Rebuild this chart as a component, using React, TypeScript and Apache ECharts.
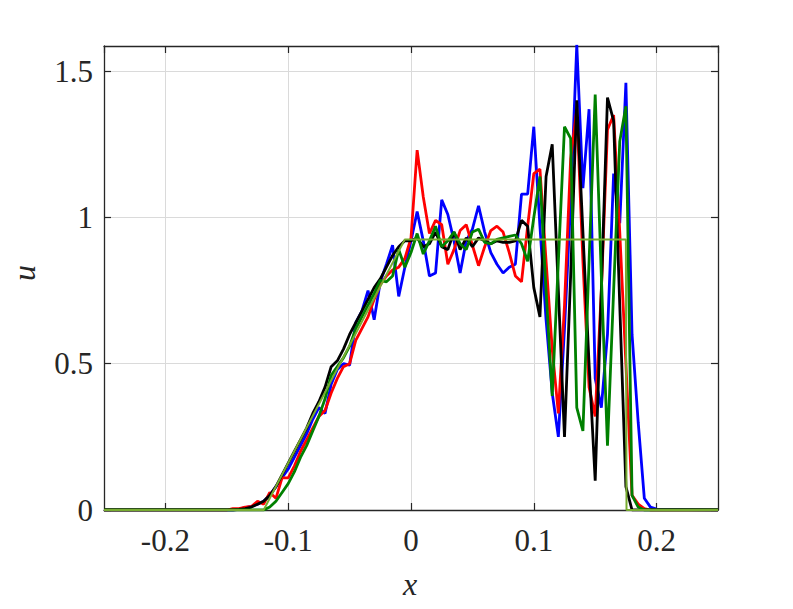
import React, { useEffect, useRef } from "react";
import * as echarts from "echarts";

const X_GRID = [
  -0.15, -0.145, -0.14, -0.135, -0.13, -0.125, -0.12, -0.115, -0.11, -0.105,
  -0.1, -0.095, -0.09, -0.085, -0.08, -0.075, -0.07, -0.065, -0.06, -0.055,
  -0.05, -0.045, -0.04, -0.035, -0.03, -0.025, -0.02, -0.015, -0.01, -0.005,
  0, 0.005, 0.01, 0.015, 0.02, 0.025, 0.03, 0.035, 0.04, 0.045,
  0.05, 0.055, 0.06, 0.065, 0.07, 0.075, 0.08, 0.085, 0.09, 0.095,
  0.1, 0.105, 0.11, 0.115, 0.12, 0.125, 0.13, 0.135, 0.14, 0.145,
  0.15, 0.155, 0.16, 0.165, 0.17, 0.175, 0.18, 0.185, 0.19, 0.195,
  0.2,
];

const BLUE_U = [
  0, 0, 0.003, 0.008, 0.012, 0.02, 0.03, 0.05, 0.08, 0.11,
  0.14, 0.18, 0.22, 0.26, 0.31, 0.35, 0.33, 0.43, 0.48, 0.5,
  0.495, 0.64, 0.68, 0.75, 0.65, 0.78, 0.84, 0.905, 0.73, 0.83,
  0.92, 1.02, 0.92, 0.8, 0.81, 1.06, 1.01, 0.92, 0.81, 0.92,
  0.96, 1.04, 0.95, 0.88, 0.84, 0.81, 0.83, 0.84, 1.08, 1.08,
  1.31, 0.97, 0.65, 0.4, 0.25, 0.62, 1.05, 1.59, 1.1, 1.37,
  0.45, 0.35, 0.6, 1.15, 0.98, 1.46, 0.6, 0.3, 0.04, 0.01,
  0.003,
];

const RED_U = [
  0, 0.005, 0.005, 0.01, 0.012, 0.03, 0.02, 0.06, 0.04, 0.11,
  0.11, 0.15, 0.2, 0.24, 0.28, 0.32, 0.34, 0.4, 0.45, 0.49,
  0.5, 0.58, 0.62, 0.66, 0.72, 0.77, 0.8, 0.82, 0.83, 0.86,
  0.93, 1.23, 1.07, 0.945, 0.99, 0.975, 0.84, 0.89, 0.955, 0.975,
  0.905, 0.835, 0.9, 0.955, 0.97, 0.95, 0.88, 0.8, 0.78, 0.97,
  1.15, 1.165, 0.85, 0.55, 0.33, 0.7, 1.2, 1.37, 0.85, 0.42,
  0.32, 0.75, 1.3, 1.35, 0.95, 0.5, 0.05, 0.02, 0.005, 0,
  0,
];

const BLACK_U = [
  0, 0, 0.002, 0.005, 0.01, 0.02, 0.03, 0.05, 0.08, 0.12,
  0.16, 0.2, 0.24, 0.28, 0.33, 0.37, 0.42, 0.49, 0.51, 0.55,
  0.6, 0.64, 0.68, 0.72, 0.76, 0.79, 0.83, 0.87, 0.9, 0.92,
  0.92, 0.93, 0.9, 0.91, 0.95, 0.9, 0.89, 0.95, 0.89, 0.93,
  0.9, 0.93, 0.92, 0.91, 0.92, 0.915, 0.915, 0.92, 0.99, 0.97,
  0.76, 0.66, 1.14, 1.25, 0.75, 0.25, 0.8, 1.4, 0.95, 0.5,
  0.1, 0.75, 1.41, 1.33, 0.7, 0.08, 0, 0, 0, 0,
  0,
];

const GREEN_U = [
  0, 0, 0, 0, 0, 0, 0, 0.01, 0.03, 0.06,
  0.09, 0.13, 0.18, 0.22, 0.27, 0.32, 0.38, 0.46, 0.49, 0.52,
  0.56, 0.62, 0.66, 0.7, 0.74, 0.785, 0.78, 0.8, 0.89, 0.83,
  0.88, 0.945, 0.875, 0.92, 0.97, 0.9, 0.92, 0.95, 0.91, 0.89,
  0.95, 0.96, 0.915, 0.91, 0.925, 0.93, 0.935, 0.94, 0.91, 0.85,
  1.0, 1.14, 0.75, 0.39, 0.85, 1.31, 1.27, 0.35, 0.27, 0.85,
  1.42, 0.8, 0.22, 0.75, 1.26, 1.38, 0.05, 0.01, 0, 0,
  0,
];

const EXACT_X = [-0.25, -0.12, -0.005, 0.175, 0.1755, 0.25];
const EXACT_U = [0, 0, 0.925, 0.925, 0, 0];

const X_MIN = -0.25;
const X_MAX = 0.25;
const Y_MIN = 0;
const Y_MAX = 1.586;

const X_TICKS = [-0.2, -0.1, 0, 0.1, 0.2];
const X_TICK_LABELS = ["-0.2", "-0.1", "0", "0.1", "0.2"];
const Y_TICKS = [0, 0.5, 1, 1.5];
const Y_TICK_LABELS = ["0", "0.5", "1", "1.5"];

const AXIS_COLOR = "#262626";
const FONT = "'Liberation Serif', 'DejaVu Serif', serif";

function pairs(xs: number[], ys: number[]): number[][] {
  const out: number[][] = [[X_MIN, 0]];
  for (let i = 0; i < xs.length; i++) out.push([xs[i], ys[i]]);
  out.push([X_MAX, 0]);
  return out;
}

function labelFor(v: number, ticks: number[], labels: string[]): string {
  for (let i = 0; i < ticks.length; i++) {
    if (Math.abs(ticks[i] - v) < 1e-6) return labels[i];
  }
  return "";
}

export default function App() {
  const ref = useRef<HTMLDivElement>(null);

  useEffect(() => {
    if (!ref.current) return;
    const chart = echarts.init(ref.current, null, { renderer: "svg" });

    const tickStyle = { show: true, inside: true, length: 7, lineStyle: { color: AXIS_COLOR, width: 1.2 } };
    const lineStyle = { show: true, onZero: false, lineStyle: { color: AXIS_COLOR, width: 1.3 } };
    const split = { show: true, lineStyle: { color: "#dadada", width: 1 } };

    const exact: number[][] = EXACT_X.map((x, i) => [x, EXACT_U[i]]);

    chart.setOption({
      animation: false,
      backgroundColor: "#ffffff",
      grid: { left: 104, top: 46, width: 614, height: 464, containLabel: false },
      xAxis: [
        {
          type: "value",
          min: X_MIN,
          max: X_MAX,
          splitNumber: 5,
          position: "bottom",
          axisLine: lineStyle,
          axisTick: tickStyle,
          splitLine: split,
          axisLabel: {
            show: true,
            margin: 15,
            color: AXIS_COLOR,
            fontFamily: FONT,
            fontSize: 31,
            showMinLabel: false,
            showMaxLabel: false,
            formatter: (v: number) => labelFor(v, X_TICKS, X_TICK_LABELS),
          },
        },
        {
          type: "value",
          min: X_MIN,
          max: X_MAX,
          splitNumber: 5,
          position: "top",
          axisLine: lineStyle,
          axisTick: tickStyle,
          splitLine: { show: false },
          axisLabel: { show: false },
        },
      ],
      yAxis: [
        {
          type: "value",
          min: Y_MIN,
          max: Y_MAX,
          interval: 0.5,
          position: "left",
          axisLine: lineStyle,
          axisTick: tickStyle,
          splitLine: split,
          axisLabel: {
            show: true,
            margin: 11,
            color: AXIS_COLOR,
            fontFamily: FONT,
            fontSize: 31,
            showMaxLabel: false,
            formatter: (v: number) => labelFor(v, Y_TICKS, Y_TICK_LABELS),
          },
        },
        {
          type: "value",
          min: Y_MIN,
          max: Y_MAX,
          interval: 0.5,
          position: "right",
          axisLine: lineStyle,
          axisTick: tickStyle,
          splitLine: { show: false },
          axisLabel: { show: false },
        },
      ],
      graphic: [
        {
          type: "text",
          x: 410,
          y: 584,
          style: {
            text: "x",
            font: `italic 32px ${FONT}`,
            fill: AXIS_COLOR,
            textAlign: "center",
            textVerticalAlign: "middle",
          },
        },
        {
          type: "text",
          x: 24,
          y: 273,
          rotation: Math.PI / 2,
          style: {
            text: "u",
            font: `italic 32px ${FONT}`,
            fill: AXIS_COLOR,
            textAlign: "center",
            textVerticalAlign: "middle",
          },
        },
      ],
      series: [
        { type: "line", name: "blue", data: pairs(X_GRID, BLUE_U), showSymbol: false, lineStyle: { color: "#0000ff", width: 2.8 }, itemStyle: { color: "#0000ff" } },
        { type: "line", name: "red", data: pairs(X_GRID, RED_U), showSymbol: false, lineStyle: { color: "#ff0000", width: 2.8 }, itemStyle: { color: "#ff0000" } },
        { type: "line", name: "black", data: pairs(X_GRID, BLACK_U), showSymbol: false, lineStyle: { color: "#000000", width: 2.8 }, itemStyle: { color: "#000000" } },
        { type: "line", name: "green", data: pairs(X_GRID, GREEN_U), showSymbol: false, lineStyle: { color: "#008000", width: 2.8 }, itemStyle: { color: "#008000" } },
        { type: "line", name: "exact", data: exact, showSymbol: false, lineStyle: { color: "#77ac30", width: 2 }, itemStyle: { color: "#77ac30" } },
      ],
    });

    return () => chart.dispose();
  }, []);

  return (
    <div
      ref={ref}
      style={{ position: "fixed", left: 0, top: 0, width: 793, height: 609, background: "#fff" }}
    />
  );
}
